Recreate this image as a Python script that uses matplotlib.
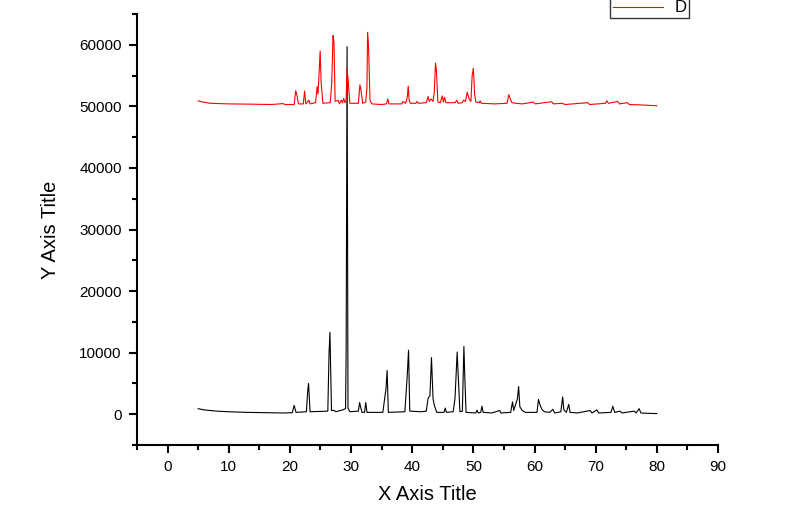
import numpy as np
import matplotlib
matplotlib.use("Agg")
import matplotlib.pyplot as plt
from matplotlib.ticker import MultipleLocator

plt.rcParams['font.family'] = ['Liberation Sans', 'DejaVu Sans']

# lower (black) pattern: 2theta / counts
x_black = [5.0, 6.0, 8.0, 10.0, 13.0, 16.0, 19.0, 20.4, 20.7, 21.0, 22.7, 22.9, 23.05, 23.3,
           26.2, 26.4, 26.55, 26.8, 27.2, 27.5, 28.6, 29.1, 29.2, 29.35, 29.5, 29.8,
           31.2, 31.4, 31.6, 31.8, 32.2, 32.4, 32.6, 35.2, 35.5, 35.7, 35.9, 36.1,
           38.8, 39.2, 39.4, 39.6, 41.5, 42.3, 42.6, 42.9, 43.15, 43.4, 43.6, 44.0,
           45.2, 45.4, 45.6, 46.7, 47.0, 47.35, 47.55, 47.8, 48.2, 48.45, 48.6, 48.8,
           50.4, 50.6, 50.8, 51.2, 51.4, 51.6, 53.0, 54.3, 54.5, 56.1, 56.4, 56.6,
           57.2, 57.4, 57.6, 58.0, 58.5, 60.4, 60.65, 60.9, 61.2, 61.6, 62.5, 63.0,
           63.3, 64.3, 64.6, 64.8, 65.2, 65.6, 65.8, 67.0, 69.1, 69.4, 70.2, 70.5,
           72.5, 72.8, 73.1, 74.0, 74.3, 76.3, 76.6, 77.1, 77.4, 78.5, 80.0]
y_black = [900, 700, 500, 400, 300, 250, 200, 250, 1450, 300, 400, 3600, 5000, 400,
           500, 9900, 13300, 600, 650, 400, 700, 900, 10400, 59700, 1000, 400,
           500, 1900, 1000, 300, 300, 1900, 300, 300, 2600, 4000, 7100, 300,
           400, 6500, 10400, 500, 400, 500, 2600, 3000, 9200, 2600, 1500, 300,
           300, 1000, 300, 400, 2600, 10100, 5700, 400, 500, 11000, 6100, 300,
           200, 650, 200, 300, 1300, 300, 200, 600, 200, 300, 2000, 600,
           2500, 4500, 1200, 600, 300, 300, 2400, 1500, 800, 400, 300, 800,
           200, 400, 2800, 700, 300, 1600, 300, 200, 600, 200, 700, 200,
           300, 1300, 300, 500, 200, 500, 200, 900, 200, 150, 100]

# upper (red) pattern "D", plotted with its offset as seen
x_red = [5.0, 5.5, 7.0, 10.0, 14.0, 17.0, 18.9, 19.2, 20.7, 20.95, 21.15, 21.4, 22.2, 22.4,
         22.6, 23.1, 23.3, 24.2, 24.45, 24.6, 24.75, 24.95, 25.1, 25.4, 26.6, 26.85,
         27.05, 27.2, 27.4, 27.9, 28.1, 28.4, 28.6, 28.8, 29.0, 29.2, 29.35, 29.55,
         29.8, 31.2, 31.45, 31.6, 31.9, 32.4, 32.6, 32.7, 32.85, 33.1, 33.4, 35.0,
         35.8, 36.0, 36.2, 38.3, 38.5, 38.9, 39.2, 39.35, 39.5, 39.7, 40.6, 40.8,
         41.0, 42.3, 42.6, 42.8, 43.1, 43.4, 43.6, 43.8, 43.95, 44.2, 44.6, 44.9,
         45.1, 45.3, 45.5, 47.0, 47.3, 47.5, 48.2, 48.4, 48.7, 49.0, 49.3, 49.6,
         49.8, 50.0, 50.2, 50.4, 51.0, 51.1, 51.3, 53.5, 55.5, 55.8, 56.0, 56.3,
         57.0, 58.0, 59.8, 60.1, 62.8, 63.1, 64.5, 65.0, 68.7, 69.0, 71.6, 71.8,
         72.1, 73.6, 73.9, 75.2, 75.5, 77.0, 80.0]
y_red = [50900, 50750, 50500, 50400, 50350, 50300, 50450, 50300, 50300, 52550, 51800, 50400, 50400, 52500,
         50400, 51000, 50400, 50600, 53200, 52000, 55000, 59000, 54000, 50500, 50600, 54000,
         61500, 60500, 50800, 51000, 50400, 51000, 50600, 51300, 50600, 51000, 56100, 54000,
         50500, 50500, 53500, 52800, 50500, 50700, 53000, 62000, 60000, 51000, 50400, 50300,
         50400, 51200, 50400, 50400, 50800, 50500, 51500, 53300, 51000, 50500, 50500, 50800,
         50500, 50600, 51600, 50800, 51200, 50800, 52200, 57000, 56000, 50700, 50600, 51700,
         50700, 51500, 50600, 50600, 51000, 50500, 50600, 51000, 50800, 52300, 51200, 50800,
         55000, 56200, 52000, 50700, 50600, 50900, 50500, 50400, 50500, 51900, 51300, 50600,
         50500, 50400, 50700, 50400, 50750, 50400, 50500, 50300, 50600, 50300, 50500, 50900,
         50500, 50800, 50400, 50600, 50300, 50250, 50100]

fig = plt.figure(figsize=(7.86, 5.17), dpi=100)
ax = fig.add_axes([137/786, 1 - 445/517, (718 - 137)/786, (445 - 14)/517])

ax.plot(x_black, y_black, color='black', lw=0.8)
ax.plot(x_red, y_red, color='red', lw=0.8, label='D')

ax.set_xlim(-5, 90)
ax.set_ylim(-5000, 65000)
ax.xaxis.set_major_locator(MultipleLocator(10))
ax.xaxis.set_minor_locator(MultipleLocator(5))
ax.yaxis.set_major_locator(MultipleLocator(10000))
ax.yaxis.set_minor_locator(MultipleLocator(5000))

for side in ['top', 'right']:
    ax.spines[side].set_visible(False)
for side in ['left', 'bottom']:
    ax.spines[side].set_linewidth(1.5)

ax.tick_params(which='major', direction='out', length=6, width=1.5, labelsize=11, colors='black')
ax.tick_params(which='minor', direction='out', length=3.5, width=1.5)
ax.tick_params(axis='x', pad=5)
ax.tick_params(axis='y', pad=5)

ax.set_xlabel('X Axis Title', fontsize=14.5, labelpad=8)
ax.set_ylabel('Y Axis Title', fontsize=14.5, labelpad=14)

leg = fig.legend(loc='lower left', bbox_to_anchor=(610/786, 1 - 18/517), fontsize=12,
                 frameon=True, fancybox=False, handlelength=3.0, handletextpad=0.7,
                 borderpad=0.15, borderaxespad=0)
leg.get_frame().set_edgecolor('black')
leg.get_frame().set_linewidth(1.0)

fig.savefig('out.png', dpi=100)
